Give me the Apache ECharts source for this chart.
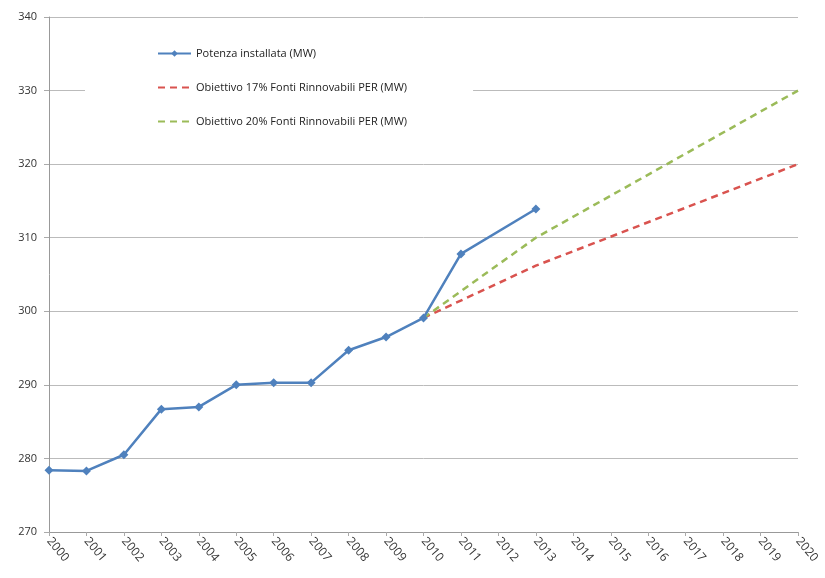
<!DOCTYPE html>
<html><head><meta charset="utf-8">
<script src="https://cdn.jsdelivr.net/npm/echarts@6/dist/echarts.min.js"></script>
<style>html,body{margin:0;padding:0;background:#fff}#c{width:825px;height:578px}</style>
</head><body><div id="c"></div>
<script>
const years = ['2000','2001','2002','2003','2004','2005','2006','2007','2008','2009','2010','2011','2012','2013','2014','2015','2016','2017','2018','2019','2020'];
const potenza = [278.4,278.3,280.5,286.7,287.0,290.0,290.3,290.3,294.7,296.5,299.1,307.8,null,313.9,null,null,null,null,null,null,null];
const obiettivo17 = [null,null,null,null,null,null,null,null,null,null,299.1,null,null,306.2,null,null,null,null,null,null,320];
const obiettivo20 = [null,null,null,null,null,null,null,null,null,null,299.1,null,null,310.0,null,null,null,null,null,null,330];
const names = ['Potenza installata (MW)','Obiettivo 17% Fonti Rinnovabili PER (MW)','Obiettivo 20% Fonti Rinnovabili PER (MW)'];

const chart = echarts.init(document.getElementById('c'));
chart.setOption({
  animation:false,
  backgroundColor:'#fff',
  textStyle:{fontFamily:'"Open Sans", "DejaVu Sans", sans-serif'},
  grid:{left:49,right:27,top:17,bottom:46},
  legend:{
    orient:'vertical', left:85, top:44,
    backgroundColor:'#fff',
    padding:[4,66,4,72],
    itemGap:23, itemWidth:33, itemHeight:8,
    textStyle:{fontSize:11,color:'#222'},
    data:[
      {name:names[0]},
      {name:names[1],itemStyle:{opacity:0}},
      {name:names[2],itemStyle:{opacity:0}}
    ]
  },
  xAxis:{
    type:'category', data:years, boundaryGap:false,
    axisLine:{lineStyle:{color:'#999'}},
    axisTick:{show:true,alignWithLabel:true,length:4,lineStyle:{color:'#aaa'}},
    axisLabel:{rotate:-50,fontSize:12,color:'#333',margin:7,interval:0},
    splitLine:{show:false}
  },
  yAxis:{
    type:'value', min:270, max:340, interval:10,
    axisLine:{show:true,lineStyle:{color:'#999'}},
    axisTick:{show:true,length:5,lineStyle:{color:'#aaa'}},
    axisLabel:{fontSize:11,color:'#333',margin:12},
    splitLine:{lineStyle:{color:'#bbb',width:1}}
  },
  series:[
    {name:names[0],type:'line',data:potenza,connectNulls:true,
     symbol:'diamond',symbolSize:9,
     lineStyle:{color:'#4F81BD',width:2.5},itemStyle:{color:'#4F81BD'},z:3},
    {name:names[1],type:'line',data:obiettivo17,connectNulls:true,symbol:'none',
     lineStyle:{color:'#D9534F',width:2.5,type:[7,5]},itemStyle:{color:'#D9534F'},z:2},
    {name:names[2],type:'line',data:obiettivo20,connectNulls:true,symbol:'none',
     lineStyle:{color:'#9BBB59',width:2.5,type:[7,5]},itemStyle:{color:'#9BBB59'},z:2}
  ]
});
</script></body></html>
